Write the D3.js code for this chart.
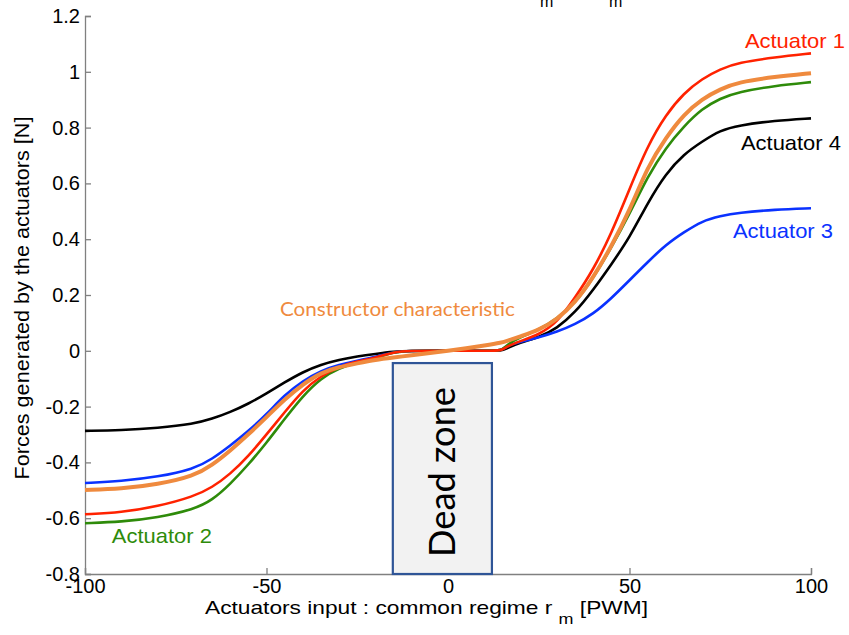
<!DOCTYPE html>
<html>
<head>
<meta charset="utf-8">
<script src="https://cdn.jsdelivr.net/npm/d3@7"></script>
<style>
  body{margin:0;background:#fff;}
  text{font-family:"Liberation Sans",Arial,sans-serif;}
</style>
</head>
<body>
<div id="viz-container"></div>
<script>
// input values (PWM), shared by every curve
let xValues = [-100,-90,-80,-70,-65,-60,-55,-50,-45,-40,-35,-30,-25,-20,-15,-10,-5,0,5,10,15,16,20,25,30,35,40,45,50,55,60,65,70,75,80,90,100];

// measured forces [N]
let actuator1 = [-0.586,-0.579,-0.558,-0.522,-0.49,-0.442,-0.378,-0.3,-0.22,-0.142,-0.09,-0.056,-0.038,-0.025,-0.004,0,0,0,0,0,0,0.015,0.035,0.058,0.1,0.19,0.29,0.42,0.58,0.735,0.846,0.924,0.975,1.01,1.033,1.052,1.066];
let actuator2 = [-0.618,-0.613,-0.598,-0.568,-0.536,-0.478,-0.408,-0.33,-0.244,-0.162,-0.098,-0.062,-0.042,-0.028,-0.004,0,0,0,0,0,0,0.02,0.05,0.075,0.115,0.17,0.26,0.37,0.49,0.625,0.728,0.805,0.868,0.905,0.928,0.95,0.963];
let actuator3 = [-0.474,-0.467,-0.452,-0.424,-0.388,-0.34,-0.288,-0.228,-0.158,-0.108,-0.071,-0.05,-0.035,-0.022,-0.004,0,0,0,0,0,0,0.018,0.032,0.048,0.068,0.095,0.132,0.188,0.253,0.318,0.38,0.425,0.465,0.483,0.495,0.506,0.511];
let actuator4 = [-0.287,-0.285,-0.277,-0.262,-0.244,-0.22,-0.19,-0.153,-0.113,-0.076,-0.049,-0.032,-0.02,-0.011,-0.003,0,0,0,0,0,0,0.008,0.03,0.048,0.08,0.137,0.218,0.31,0.405,0.53,0.635,0.705,0.75,0.79,0.808,0.825,0.833];
let constructor = [-0.499,-0.495,-0.479,-0.449,-0.41,-0.358,-0.3,-0.238,-0.174,-0.12,-0.078,-0.058,-0.045,-0.032,-0.024,-0.016,-0.008,0,0.009,0.019,0.03,0.034,0.052,0.074,0.112,0.172,0.262,0.374,0.502,0.66,0.764,0.848,0.903,0.938,0.963,0.982,0.995];

let xTicks = [-100,-50,0,50,100];
let yTicks = [-0.8,-0.6,-0.4,-0.2,0,0.2,0.4,0.6,0.8,1,1.2];

// dead zone annotation box (PWM range, force top)
let deadZone = [-15.2, 12.1];
let deadZoneTop = -0.044;

let width = 849, height = 635;

//create canvas
let viz = d3.select("#viz-container")
    .append("svg")
    .attr("width",width)
    .attr("height",height)
;

let x = d3.scaleLinear().domain([-100,100]).range([85,811]);
let y = d3.scaleLinear().domain([-0.8,1.2]).range([574,16]);

// axes, matlab style: ticks pointing inside, plain hyphen for minus
let xAxis = viz.append("g")
    .attr("transform","translate(0,"+y(-0.8)+")")
    .call(d3.axisBottom(x).tickValues(xTicks).tickSize(-6).tickPadding(8).tickFormat(function(d){ return String(d); }));
let yAxis = viz.append("g")
    .attr("transform","translate("+x(-100)+",0)")
    .call(d3.axisLeft(y).tickValues(yTicks).tickSize(-6).tickPadding(5).tickFormat(function(d){ return String(d); }));

[xAxis,yAxis].forEach(function(a){
  a.select(".domain").attr("stroke","#808080").attr("stroke-width",1.3);
  a.selectAll(".tick line").attr("stroke","#808080").attr("stroke-width",1.3);
  a.selectAll(".tick text").attr("fill","#000").style("font-size","20px").style("font-family","Liberation Sans, Arial, sans-serif");
});
xAxis.selectAll(".tick text").attr("dy","0.55em");

// dead zone box
viz.append("rect")
  .attr("x",x(deadZone[0]))
  .attr("y",y(deadZoneTop))
  .attr("width",x(deadZone[1])-x(deadZone[0]))
  .attr("height",y(-0.8)-y(deadZoneTop))
  .attr("fill","#f2f2f2")
  .attr("stroke","#2f5597")
  .attr("stroke-width",2.2)
;
viz.append("text")
  .attr("transform","translate("+(x((deadZone[0]+deadZone[1])/2)+13)+","+472+") rotate(-90)")
  .attr("text-anchor","middle")
  .attr("textLength",170)
  .attr("lengthAdjust","spacingAndGlyphs")
  .style("font-family","Lato, 'Open Sans', sans-serif")
  .style("font-size","36px")
  .attr("fill","#000")
  .text("Dead zone")
;

// curves
let series = [
  {name:"Actuator 4", values:actuator4, color:"#000000", w:2.6},
  {name:"Actuator 3", values:actuator3, color:"#0a32ff", w:2.6},
  {name:"Actuator 2", values:actuator2, color:"#2e8b0a", w:2.6},
  {name:"Actuator 1", values:actuator1, color:"#ff2200", w:2.6},
  {name:"Constructor", values:constructor, color:"#ef8a3e", w:4}
];

let line = d3.line()
    .x(function(d){ return x(d[0]); })
    .y(function(d){ return y(d[1]); })
    .curve(d3.curveBasis);

viz.selectAll(".curve").data(series).enter()
  .append("path")
    .attr("class","curve")
    .attr("d",function(s){ return line(xValues.map(function(v,i){ return [v,s.values[i]]; })); })
    .attr("fill","none")
    .attr("stroke",function(s){ return s.color; })
    .attr("stroke-width",function(s){ return s.w; })
    .attr("stroke-linejoin","round")
;

// curve labels
let labels = [
  {text:"Actuator 1", x:81.8, y:1.085, color:"#ff2200"},
  {text:"Actuator 4", x:80.7, y:0.719, color:"#000000"},
  {text:"Actuator 3", x:78.5, y:0.404, color:"#0a32ff"},
  {text:"Actuator 2", x:-92.6, y:-0.689, color:"#2e8b0a"}
];
viz.selectAll(".lab").data(labels).enter()
  .append("text")
    .attr("class","lab")
    .attr("x",function(d){ return x(d.x); })
    .attr("y",function(d){ return y(d.y); })
    .attr("fill",function(d){ return d.color; })
    .attr("textLength",100)
    .attr("lengthAdjust","spacingAndGlyphs")
    .style("font-size","21px")
    .text(function(d){ return d.text; })
;
viz.append("text")
  .attr("x",x(-46.3))
  .attr("y",y(0.125))
  .attr("fill","#ef8a3e")
  .attr("textLength",235)
  .attr("lengthAdjust","spacingAndGlyphs")
  .style("font-family","Lato, 'Open Sans', sans-serif")
  .style("font-size","20px")
  .text("Constructor characteristic")
;

// axis titles
let xl = viz.append("text")
  .attr("x",205)
  .attr("y",614)
  .attr("fill","#000")
  .attr("textLength",443)
  .attr("lengthAdjust","spacingAndGlyphs")
  .style("font-size","19px");
xl.append("tspan").text("Actuators input : common regime r ");
xl.append("tspan").attr("dy",10).style("font-size","15px").text("m");
xl.append("tspan").attr("dy",-10).text(" [PWM]");

viz.append("text")
  .attr("transform","translate(29,"+298+") rotate(-90)")
  .attr("text-anchor","middle")
  .attr("fill","#000")
  .attr("textLength",363)
  .attr("lengthAdjust","spacingAndGlyphs")
  .style("font-size","20px")
  .text("Forces generated by the actuators [N]")
;

// bits of a cut-off title subscript at the very top
viz.selectAll(".topm").data([540,609]).enter()
  .append("text")
    .attr("class","topm")
    .attr("x",function(d){ return d; })
    .attr("y",7)
    .attr("fill","#000")
    .style("font-size","16px")
    .text("m")
;
</script>
</body>
</html>
